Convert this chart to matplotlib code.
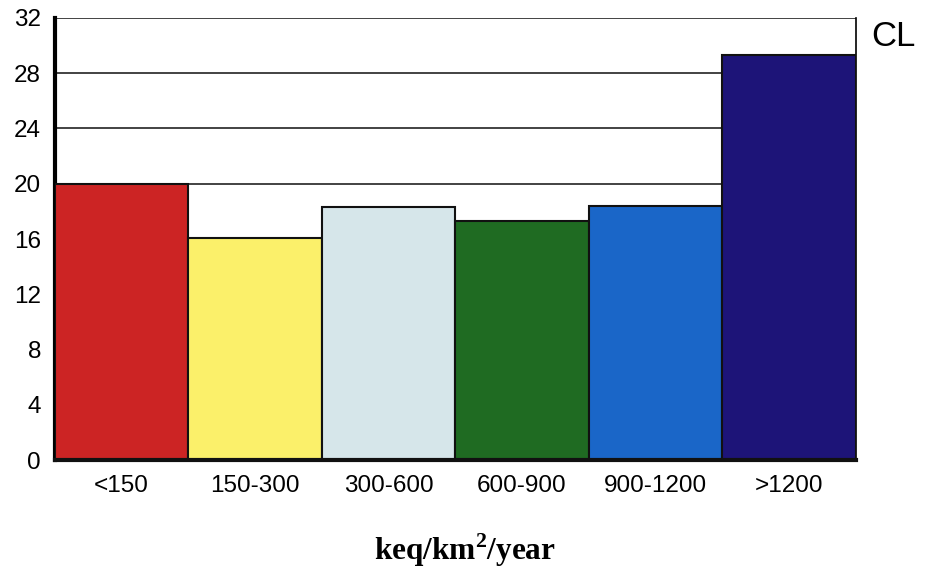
import matplotlib.pyplot as plt

plt.rcParams['font.family'] = ['Liberation Sans', 'DejaVu Sans']
plt.rcParams['mathtext.fontset'] = 'custom'
plt.rcParams['mathtext.bf'] = 'Liberation Serif:bold'

classes = ['<150', '150-300', '300-600', '600-900', '900-1200', '>1200']
values = [20.0, 16.1, 18.3, 17.3, 18.4, 29.3]
colors = ['#cc2424', '#fbf06a', '#d6e6ea', '#1f6b22', '#1a66c8', '#1d1478']
yticks = [0, 4, 8, 12, 16, 20, 24, 28, 32]

fig = plt.figure(figsize=(9.29, 5.78), dpi=100)
ax = fig.add_axes([0.059, 0.204, 0.862, 0.765])

ax.bar(range(len(classes)), values, width=1.0, color=colors,
       edgecolor='#111111', linewidth=1.5, zorder=3)

ax.set_xlim(-0.5, len(classes) - 0.5)
ax.set_ylim(0, 32)
ax.set_yticks(yticks)
ax.set_xticks(range(len(classes)))
ax.set_xticklabels(classes, fontsize=17.5)
ax.tick_params(axis='y', labelsize=17.5, length=0, pad=10)
ax.tick_params(axis='x', length=0, pad=11)
ax.yaxis.grid(True, color='#222222', linewidth=1.2, zorder=0)

for side in ['top', 'bottom']:
    ax.spines[side].set_visible(False)
ax.spines['left'].set_linewidth(3)
ax.spines['right'].set_linewidth(1.2)
ax.axhline(0, color='#111111', linewidth=3, zorder=4, clip_on=False)

fig.text(0.962, 0.937, 'CL', fontsize=25, ha='center', va='center')
fig.text(0.5, 0.048, r'keq/km$^\mathbf{2}$/year', fontsize=22.5, ha='center',
         va='center', family='Liberation Serif', weight='bold')

fig.savefig('out.png', dpi=100)
